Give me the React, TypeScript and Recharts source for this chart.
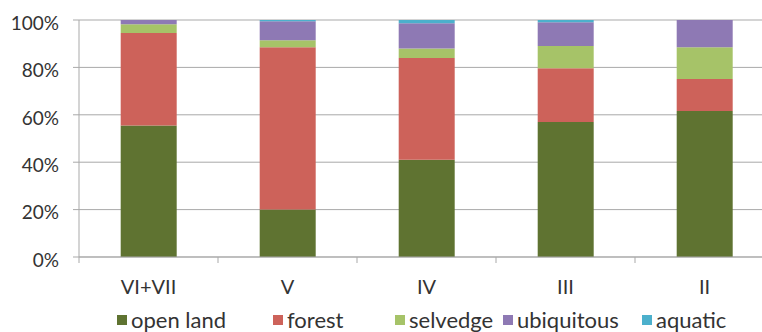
import { BarChart, Bar, XAxis, YAxis, CartesianGrid, Legend } from 'recharts'

const categories = ['VI+VII', 'V', 'IV', 'III', 'II']
const openLand = [55.5, 20, 41, 57, 61.6]
const forest = [39, 68.5, 43, 22.6, 13.5]
const selvedge = [3.7, 3, 4, 9.4, 13.4]
const ubiquitous = [1.8, 8, 10.6, 10, 11.5]
const aquatic = [0, 0.5, 1.4, 1, 0]
const yTicks = [0, 20, 40, 60, 80, 100]

const SERIES = [
  { key: 'openLand', name: 'open land', color: '#5f7331' },
  { key: 'forest', name: 'forest', color: '#cd625a' },
  { key: 'selvedge', name: 'selvedge', color: '#a6c368' },
  { key: 'ubiquitous', name: 'ubiquitous', color: '#8e79b4' },
  { key: 'aquatic', name: 'aquatic', color: '#4cb0cc' },
]

const data = categories.map((c, i) => ({
  name: c,
  openLand: openLand[i],
  forest: forest[i],
  selvedge: selvedge[i],
  ubiquitous: ubiquitous[i],
  aquatic: aquatic[i],
}))

const GRID = '#a9a9a9'
const TEXT = '#333333'

// category label plus a tick mark on the left boundary of the band (Excel style)
const CategoryTick = (props: any) => {
  const { x, y, payload } = props
  const bx = x - (payload.offset ?? 0)
  const axisY = y - 26
  return (
    <g>
      <line x1={bx} x2={bx} y1={axisY} y2={axisY + 6} stroke={GRID} />
      <text x={x} y={y} dy={11} textAnchor="middle" fill={TEXT} fontSize={20}>
        {payload.value}
      </text>
    </g>
  )
}

const widths = [156, 122, 108, 139, 120]

const LegendContent = () => (
  <div style={{ display: 'flex', height: 33, paddingTop: 9, paddingLeft: 117, boxSizing: 'border-box', alignItems: 'flex-start' }}>
    {SERIES.map((s, i) => (
      <div key={s.key} style={{ width: widths[i], display: 'flex', alignItems: 'center', height: 24 }}>
        <span style={{ width: 10, height: 10, background: s.color, display: 'inline-block', marginRight: 4 }} />
        <span style={{ fontSize: 22, color: TEXT, lineHeight: '24px' }}>{s.name}</span>
      </div>
    ))}
  </div>
)

export default function App() {
  return (
    <div
      style={{
        position: 'absolute',
        left: 0,
        top: 0,
        width: 762,
        height: 332,
        overflow: 'hidden',
        background: '#fff',
        fontFamily: 'Lato',
      }}
    >
      <BarChart
        width={790}
        height={332}
        data={data}
        margin={{ top: 20, right: 16, left: 0, bottom: 0 }}
        barCategoryGap="30%"
      >
        <CartesianGrid vertical={false} stroke={GRID} />
        <XAxis
          dataKey="name"
          height={42}
          axisLine={{ stroke: GRID }}
          tickLine={{ stroke: 'transparent' }}
          tickSize={6}
          tickMargin={20}
          tick={<CategoryTick />}
          interval={0}
        />
        <YAxis
          width={79}
          domain={[0, 100]}
          ticks={yTicks}
          tickFormatter={(v: number) => `${v}%`}
          axisLine={{ stroke: GRID }}
          tickLine={{ stroke: GRID }}
          tickSize={6}
          tickMargin={14}
          tick={{ fontSize: 19, fill: TEXT, dy: 3 }}
        />
        <Legend verticalAlign="bottom" content={<LegendContent />} wrapperStyle={{ left: 0, width: 762, height: 33 }} />
        {SERIES.map((s) => (
          <Bar key={s.key} dataKey={s.key} name={s.name} stackId="a" fill={s.color} isAnimationActive={false} />
        ))}
      </BarChart>
    </div>
  )
}
